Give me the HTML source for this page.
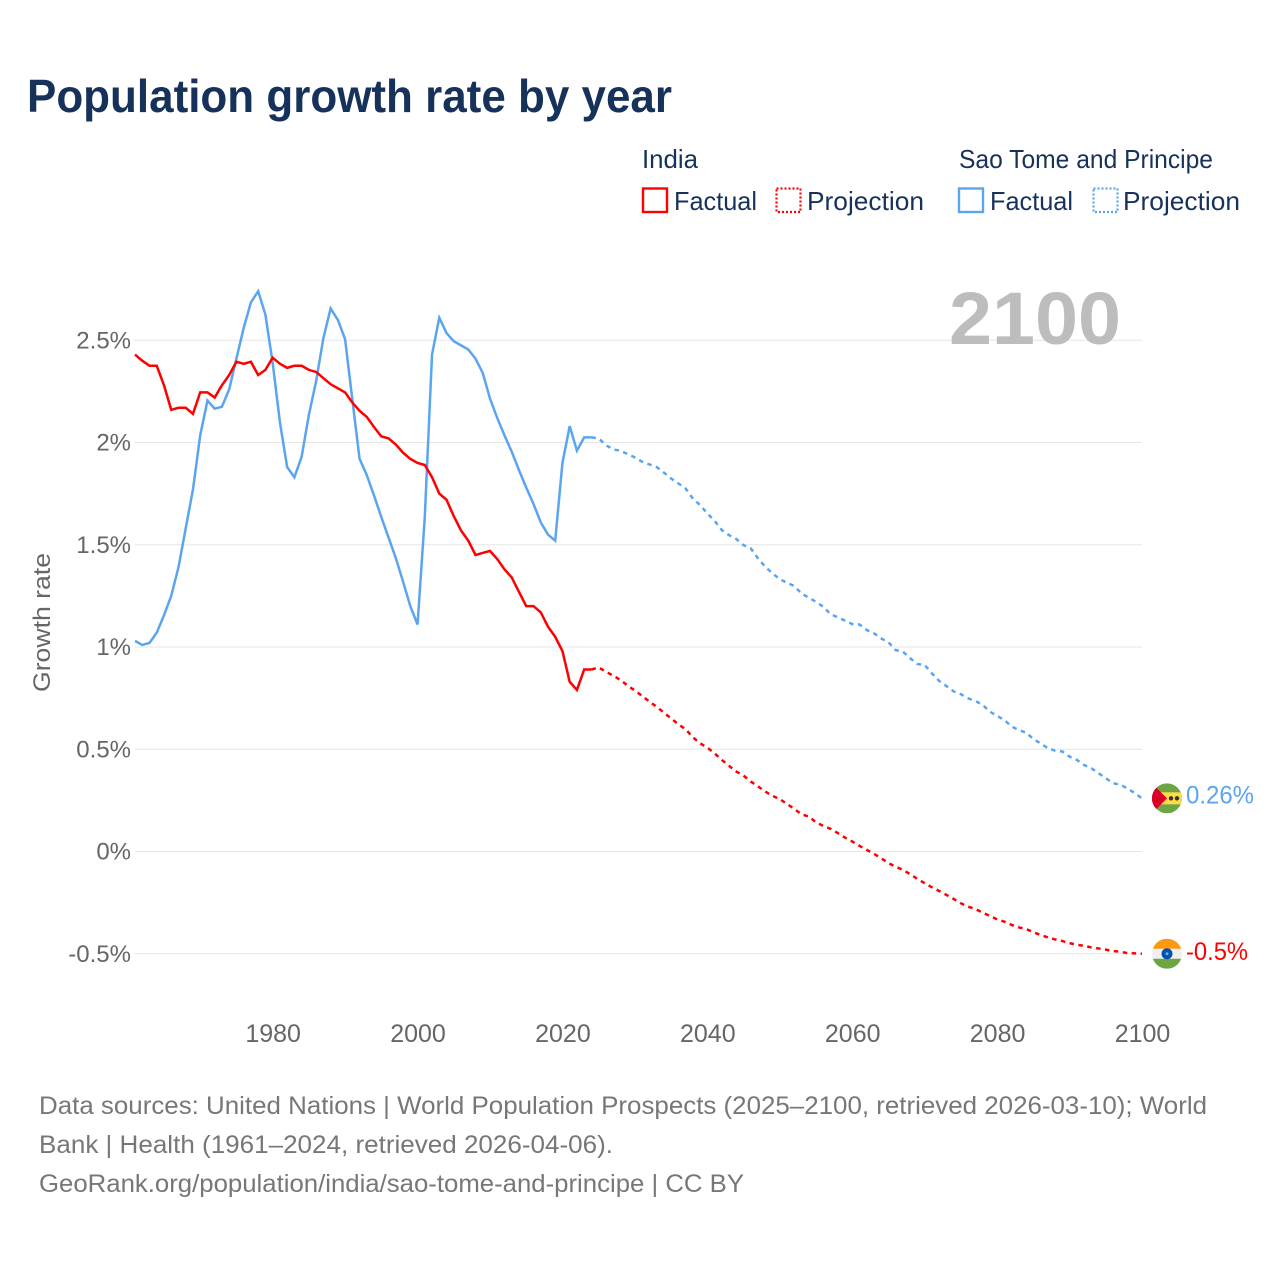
<!DOCTYPE html>
<html lang="en">
<head>
<meta charset="utf-8">
<title>Population growth rate by year</title>
<style>
  html, body { margin: 0; padding: 0; background: #fff; }
  svg { display: block; font-family: "Liberation Sans", "DejaVu Sans", sans-serif; }
</style>
</head>
<body>
<svg id="chart" xmlns="http://www.w3.org/2000/svg" width="1280" height="1280" viewBox="0 0 1280 1280">
  <rect x="0" y="0" width="1280" height="1280" fill="#ffffff"/>
  <text x="27" y="112" font-size="46" font-weight="700" fill="#17325a" textLength="645" lengthAdjust="spacingAndGlyphs">Population growth rate by year</text>

  <g font-size="26" fill="#17325a">
    <text x="642" y="168" textLength="56" lengthAdjust="spacingAndGlyphs">India</text>
    <text x="959" y="168" textLength="254" lengthAdjust="spacingAndGlyphs">Sao Tome and Principe</text>
    <rect x="643" y="188.5" width="24" height="23.5" fill="none" stroke="#ff0000" stroke-width="2.4"/>
    <text x="674" y="210" textLength="83" lengthAdjust="spacingAndGlyphs">Factual</text>
    <rect x="776.5" y="188.5" width="24" height="23.5" fill="none" stroke="#ff0000" stroke-width="2.2" stroke-dasharray="2 2"/>
    <text x="807" y="210" textLength="117" lengthAdjust="spacingAndGlyphs">Projection</text>
    <rect x="959" y="188.5" width="24" height="23.5" fill="none" stroke="#5ba4f0" stroke-width="2.4"/>
    <text x="990" y="210" textLength="83" lengthAdjust="spacingAndGlyphs">Factual</text>
    <rect x="1093.5" y="188.5" width="24" height="23.5" fill="none" stroke="#5ba4f0" stroke-width="2.2" stroke-dasharray="2 2"/>
    <text x="1123" y="210" textLength="117" lengthAdjust="spacingAndGlyphs">Projection</text>
  </g>

  <g id="grid"></g>
  <text x="949" y="344" font-size="74" font-weight="700" fill="#bdbdbd" textLength="172" lengthAdjust="spacingAndGlyphs">2100</text>
  <g id="yticks" font-size="24" fill="#666666" text-anchor="end"></g>
  <g id="xticks" font-size="25" fill="#666666" text-anchor="middle"></g>
  <text transform="translate(50 622.5) rotate(-90)" font-size="24" fill="#666666" text-anchor="middle" textLength="139" lengthAdjust="spacingAndGlyphs">Growth rate</text>
  <g id="series" fill="none" stroke-width="2.5"></g>

  <defs>
    <clipPath id="flag-clip"><circle cx="0" cy="0" r="15"/></clipPath>
  </defs>
  <g id="flag-stp">
    <g clip-path="url(#flag-clip)">
      <rect x="-15" y="-15" width="30" height="30" fill="#6da544"/>
      <rect x="-15" y="-6" width="30" height="12" fill="#ffda44"/>
      <polygon points="-15,-15 0,0 -15,15" fill="#d80027"/>
      <polygon points="-15,-12 -1,0 -15,12" fill="#d80027"/>
      <circle cx="4" cy="0" r="2.2" fill="#333333"/>
      <circle cx="10" cy="0" r="2.2" fill="#333333"/>
    </g>
  </g>
  <g id="flag-india">
    <g clip-path="url(#flag-clip)">
      <rect x="-15" y="-15" width="30" height="30" fill="#f0f0f0"/>
      <rect x="-15" y="-15" width="30" height="10" fill="#ff9811"/>
      <rect x="-15" y="5" width="30" height="10" fill="#6da544"/>
      <circle cx="0" cy="0" r="5.5" fill="#0052b4"/>
      <circle cx="0" cy="0" r="1.5" fill="#7fa3d6"/>
    </g>
  </g>
  <g id="endlabels" font-size="25"></g>

  <g font-size="25" fill="#777777">
    <text x="39" y="1114" textLength="1168" lengthAdjust="spacingAndGlyphs">Data sources: United Nations | World Population Prospects (2025–2100, retrieved 2026-03-10); World</text>
    <text x="39" y="1153" textLength="574" lengthAdjust="spacingAndGlyphs">Bank | Health (1961–2024, retrieved 2026-04-06).</text>
    <text x="39" y="1192" textLength="705" lengthAdjust="spacingAndGlyphs">GeoRank.org/population/india/sao-tome-and-principe | CC BY</text>
  </g>
</svg>

<script>
const factualStartYear = 1961;
const projectionStartYear = 2024;
const xTickYears = [1980, 2000, 2020, 2040, 2060, 2080, 2100];
const yTickValues = [-0.5, 0, 0.5, 1, 1.5, 2, 2.5];
const yTickLabels = ["-0.5%", "0%", "0.5%", "1%", "1.5%", "2%", "2.5%"];

const indiaFactual = [
  2.43, 2.40, 2.375, 2.375, 2.28, 2.16, 2.17, 2.17, 2.14, 2.245,
  2.245, 2.22, 2.28, 2.33, 2.395, 2.385, 2.395, 2.33, 2.355, 2.415,
  2.385, 2.365, 2.375, 2.375, 2.355, 2.345, 2.315, 2.285, 2.265, 2.245,
  2.195, 2.155, 2.125, 2.075, 2.03, 2.02, 1.99, 1.95, 1.92, 1.90,
  1.89, 1.83, 1.75, 1.72, 1.64, 1.57, 1.52, 1.45, 1.46, 1.47,
  1.43, 1.38, 1.34, 1.27, 1.20, 1.20, 1.17, 1.10, 1.05, 0.98,
  0.83, 0.79, 0.89, 0.89
];
const indiaProjection = [
  0.89, 0.90, 0.879, 0.86, 0.839, 0.811, 0.787, 0.761, 0.733, 0.708, 0.679,
  0.651, 0.622, 0.598, 0.559, 0.529, 0.508, 0.48, 0.448, 0.419, 0.391,
  0.371, 0.342, 0.318, 0.293, 0.272, 0.256, 0.233, 0.208, 0.182, 0.171,
  0.143, 0.125, 0.111, 0.09, 0.068, 0.049, 0.028, 0.008, -0.011, -0.033,
  -0.057, -0.074, -0.09, -0.111, -0.134, -0.155, -0.175, -0.193, -0.212, -0.232,
  -0.253, -0.27, -0.281, -0.299, -0.315, -0.332, -0.343, -0.359, -0.371, -0.379,
  -0.395, -0.408, -0.42, -0.43, -0.438, -0.448, -0.456, -0.461, -0.469, -0.474,
  -0.48, -0.487, -0.49, -0.497, -0.498, -0.5
];
const saoTomeFactual = [
  1.03, 1.01, 1.02, 1.07, 1.155, 1.25, 1.39, 1.58, 1.77, 2.035,
  2.205, 2.165, 2.175, 2.26, 2.41, 2.56, 2.685, 2.74, 2.625, 2.39,
  2.10, 1.88, 1.83, 1.93, 2.135, 2.30, 2.51, 2.655, 2.60, 2.505,
  2.21, 1.92, 1.84, 1.74, 1.635, 1.535, 1.435, 1.32, 1.20, 1.11,
  1.635, 2.43, 2.61, 2.535, 2.495, 2.475, 2.455, 2.41, 2.34, 2.215,
  2.12, 2.035, 1.955, 1.865, 1.78, 1.70, 1.61, 1.55, 1.52, 1.90,
  2.08, 1.96, 2.025, 2.025
];
const saoTomeProjection = [
  2.025, 2.02, 1.987, 1.966, 1.96, 1.943, 1.927, 1.906, 1.893, 1.88, 1.853,
  1.824, 1.80, 1.775, 1.726, 1.694, 1.653, 1.617, 1.572, 1.547, 1.528,
  1.498, 1.482, 1.433, 1.392, 1.36, 1.332, 1.314, 1.298, 1.262, 1.241,
  1.221, 1.197, 1.161, 1.145, 1.129, 1.112, 1.11, 1.083, 1.067, 1.042,
  1.023, 0.985, 0.977, 0.945, 0.917, 0.912, 0.871, 0.834, 0.809, 0.783,
  0.769, 0.749, 0.736, 0.717, 0.684, 0.663, 0.643, 0.611, 0.594, 0.581,
  0.55, 0.529, 0.505, 0.493, 0.489, 0.464, 0.448, 0.423, 0.407, 0.383,
  0.358, 0.334, 0.326, 0.309, 0.285, 0.26
];
const endLabelSaoTome = "0.26%";
const endLabelIndia = "-0.5%";

const SVG_NS = "http://www.w3.org/2000/svg";
const plotLeft = 135, plotRight = 1142, zeroY = 851.5, pxPerPercent = 204.5;
const xScale = function (year) { return plotLeft + (year - 1961) * (plotRight - plotLeft) / (2100 - 1961); };
const yScale = function (value) { return zeroY - value * pxPerPercent; };

function make(tag, parentId) {
  const el = document.createElementNS(SVG_NS, tag);
  document.getElementById(parentId).appendChild(el);
  return el;
}
function linePath(values, startYear) {
  return values.map(function (v, i) {
    return (i ? "L" : "M") + xScale(startYear + i).toFixed(2) + " " + yScale(v).toFixed(2);
  }).join("");
}

yTickValues.forEach(function (v, i) {
  const grid = make("line", "grid");
  
  
  grid.setAttribute("x1", plotLeft);
  grid.setAttribute("x2", plotRight);
  grid.setAttribute("y1", yScale(v));
  grid.setAttribute("y2", yScale(v));
  grid.setAttribute("stroke", "#e6e6e6");
  grid.setAttribute("stroke-width", "1");
  const label = make("text", "yticks");
  
  
  label.setAttribute("x", 131);
  label.setAttribute("y", yScale(v) + 8);
  label.textContent = yTickLabels[i];
});

xTickYears.forEach(function (year) {
  const label = make("text", "xticks");
  
  
  label.setAttribute("x", xScale(year) + 0.5);
  label.setAttribute("y", 1042);
  label.textContent = year;
});

const saoFactualLine = make("path", "series");


saoFactualLine.setAttribute("d", linePath(saoTomeFactual, factualStartYear));
saoFactualLine.setAttribute("stroke", "#5ba4f0");

const saoProjectionLine = make("path", "series");


saoProjectionLine.setAttribute("d", linePath(saoTomeProjection, projectionStartYear));
saoProjectionLine.setAttribute("stroke", "#5ba4f0");
saoProjectionLine.setAttribute("stroke-dasharray", "4.5 4.5");

const indiaFactualLine = make("path", "series");


indiaFactualLine.setAttribute("d", linePath(indiaFactual, factualStartYear));
indiaFactualLine.setAttribute("stroke", "#ff0000");

const indiaProjectionLine = make("path", "series");


indiaProjectionLine.setAttribute("d", linePath(indiaProjection, projectionStartYear));
indiaProjectionLine.setAttribute("stroke", "#ff0000");
indiaProjectionLine.setAttribute("stroke-dasharray", "4.5 4.5");

const lastSao = saoTomeProjection[saoTomeProjection.length - 1];
const lastIndia = indiaProjection[indiaProjection.length - 1];
document.getElementById("flag-stp").setAttribute("transform", "translate(1167 " + yScale(lastSao) + ")");
document.getElementById("flag-india").setAttribute("transform", "translate(1167 " + yScale(lastIndia) + ")");

const saoEnd = make("text", "endlabels");


saoEnd.setAttribute("x", 1186);
saoEnd.setAttribute("y", yScale(lastSao) + 5);
saoEnd.setAttribute("fill", "#5ba4f0");
saoEnd.setAttribute("textLength", "68");
saoEnd.setAttribute("lengthAdjust", "spacingAndGlyphs");
saoEnd.textContent = endLabelSaoTome;

const indiaEnd = make("text", "endlabels");


indiaEnd.setAttribute("x", 1186);
indiaEnd.setAttribute("y", yScale(lastIndia) + 6);
indiaEnd.setAttribute("fill", "#ff0000");
indiaEnd.setAttribute("textLength", "62");
indiaEnd.setAttribute("lengthAdjust", "spacingAndGlyphs");
indiaEnd.textContent = endLabelIndia;
</script>
</body>
</html>
